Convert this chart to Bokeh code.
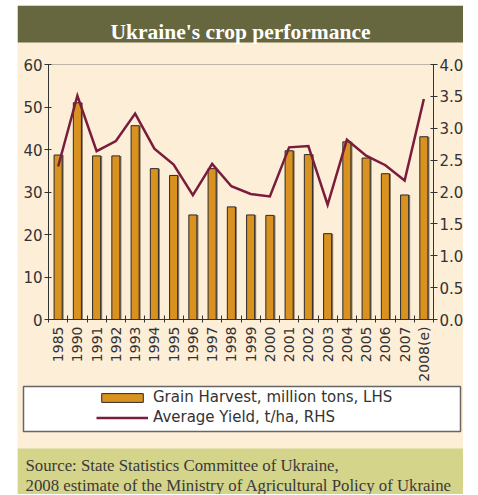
import numpy as np
from bokeh.plotting import figure
from bokeh.models import (ColumnDataSource, Range1d, LinearAxis, FixedTicker,
                          PrintfTickFormatter, Legend, LegendItem, Label,
                          BoxAnnotation)
from bokeh.layouts import column
from bokeh.transform import dodge
from bokeh.embed import file_html
from bokeh.resources import INLINE

# ---------------- data ----------------
years = ["1985", "1990", "1991", "1992", "1993", "1994", "1995", "1996", "1997",
         "1998", "1999", "2000", "2001", "2002", "2003", "2004", "2005", "2006",
         "2007", "2008(e)"]
harvest = [38.7, 51.0, 38.5, 38.5, 45.6, 35.5, 33.9, 24.6, 35.5, 26.5,
           24.6, 24.5, 39.7, 38.8, 20.2, 41.8, 38.0, 34.3, 29.3, 43.0]
yield_tha = [2.40, 3.51, 2.64, 2.80, 3.23, 2.68, 2.43, 1.95, 2.44, 2.09,
             1.97, 1.93, 2.70, 2.72, 1.80, 2.82, 2.57, 2.42, 2.18, 3.46]
left_ticks = [0, 10, 20, 30, 40, 50, 60]
right_ticks = [0.0, 0.5, 1.0, 1.5, 2.0, 2.5, 3.0, 3.5, 4.0]
title_text = "Ukraine's crop performance"
legend_labels = ["Grain Harvest, million tons, LHS", "Average Yield, t/ha, RHS"]
source_lines = ["Source: State Statistics Committee of Ukraine,",
                "2008 estimate of the Ministry of Agricultural Policy of Ukraine"]

# ---------------- styles / layout (pixels) ----------------
CREAM = "#fdeed8"
OLIVE = "#67673f"
SAGE = "#d4d48a"
ORANGE = "#d9911f"
DARK = "#2b2b2b"
SHADOW = "#8a7e6c"
MAROON = "#7a1c3c"
AX = "#333333"
TXT = "#333333"
W, H = 446, 489                 # canvas (page x 17..463, y 5..494)
PL, PR, PT, PB = 31, 416, 59, 314   # chart area inside canvas (px)

n = len(years)
x0, x1 = -0.5, n - 0.5
ppx = (PR - PL) / (x1 - x0)
y0, y1 = left_ticks[0], left_ticks[-1]
ppy = (PB - PT) / (y1 - y0)
xr = Range1d(x0 - PL / ppx, x1 + (W - PR) / ppx)
yr = Range1d(y0 - (H - PB) / ppy, y1 + PT / ppy)
k = (right_ticks[-1] - right_ticks[0]) / (y1 - y0)
yr2 = Range1d(yr.start * k, yr.end * k)

xs = list(range(n))
src = ColumnDataSource(data=dict(x=xs, harvest=harvest, yld=yield_tha))

p = figure(width=W, height=H, x_range=xr, y_range=yr, title=None,
           output_backend="svg", toolbar_location=None, tools="",
           min_border=0, background_fill_color=CREAM,
           border_fill_color=CREAM, outline_line_color=None)
p.extra_y_ranges = {"y2": yr2}
p.xgrid.grid_line_color = None
p.ygrid.grid_line_color = None

# decorative panels (screen units: x from canvas left, y up from canvas bottom)
def panel(left, right, bottom, top, fill, line=None, lw=1):
    b = BoxAnnotation(left=left, right=right, bottom=bottom, top=top,
                      left_units="screen", right_units="screen",
                      bottom_units="screen", top_units="screen",
                      fill_color=fill, fill_alpha=1.0, level="underlay",
                      line_color=line, line_width=lw,
                      line_alpha=1.0 if line else 0)
    p.add_layout(b)

panel(0, W, H - 37, H, OLIVE)                  # title bar (page y 5..42)
panel(6, 443, 63, 108, "white", "#666666", 1.5)  # legend box
panel(0, W, 0, 46, SAGE)                       # source panel (page y 448..)

# chart frame (top border line)
p.add_layout(BoxAnnotation(left=x0, right=x1, bottom=y0, top=y1,
                           fill_alpha=0, line_color=AX, line_width=1,
                           level="underlay"))

p.add_layout(Label(x=223, y=H - 26, x_units="screen", y_units="screen",
                   text=title_text, text_align="center",
                   text_baseline="alphabetic", text_font="Liberation Serif",
                   text_font_style="bold", text_font_size="21.5px",
                   text_color="white"))
for i, line in enumerate(source_lines):
    p.add_layout(Label(x=8, y=29 - 20 * i, x_units="screen", y_units="screen",
                       text=line, text_align="left", text_baseline="alphabetic",
                       text_font="Liberation Serif", text_font_size="16.8px",
                       text_color="#3a3a3a"))

# ---------------- marks ----------------
p.vbar(x=dodge("x", 0.08), top="harvest", width=0.42, source=src,
       fill_color=SHADOW, line_color=None)
rb = p.vbar(x="x", top="harvest", width=0.42, source=src,
            fill_color=ORANGE, line_color=DARK, line_width=1)
rl = p.line(x="x", y="yld", source=src, y_range_name="y2",
            line_color=MAROON, line_width=2.5, line_join="miter")

# ---------------- axes ----------------
xa = p.xaxis[0]
xa.fixed_location = y0
xa.bounds = (x0, x1)
xa.ticker = FixedTicker(ticks=xs, minor_ticks=[i - 0.5 for i in range(n + 1)])
xa.major_label_overrides = {i: y for i, y in enumerate(years)}
xa.major_tick_in = 0
xa.major_tick_out = 0
xa.minor_tick_in = 4
xa.minor_tick_out = 3
xa.minor_tick_line_color = AX
xa.major_label_orientation = np.pi / 2
xa.major_label_standoff = 4
xa.major_label_text_font = "DejaVu Sans"
xa.major_label_text_font_size = "14px"
xa.major_label_text_color = TXT
xa.axis_line_color = AX

ya = p.yaxis[0]
ya.fixed_location = x0
ya.bounds = (y0, y1)
ya.ticker = FixedTicker(ticks=left_ticks)
ya.major_tick_in = 3
ya.major_tick_out = 4
ya.minor_tick_line_color = None
ya.major_label_standoff = 2
ya.major_label_text_font = "DejaVu Sans"
ya.major_label_text_font_size = "15px"
ya.major_label_text_color = TXT
ya.axis_line_color = AX
ya.major_tick_line_color = AX

ra = LinearAxis(y_range_name="y2", ticker=FixedTicker(ticks=right_ticks),
                formatter=PrintfTickFormatter(format="%.1f"),
                fixed_location=x1, bounds=(right_ticks[0], right_ticks[-1]))
ra.major_tick_in = 3
ra.major_tick_out = 4
ra.minor_tick_line_color = None
ra.major_label_standoff = 2
ra.major_label_text_font = "DejaVu Sans"
ra.major_label_text_font_size = "15px"
ra.major_label_text_color = TXT
ra.axis_line_color = AX
ra.major_tick_line_color = AX
p.add_layout(ra, "right")

# ---------------- legend ----------------
leg = Legend(items=[LegendItem(label=legend_labels[0], renderers=[rb]),
                    LegendItem(label=legend_labels[1], renderers=[rl])],
             location=(79, 67), orientation="vertical", padding=0, margin=0,
             spacing=0, border_line_color=None, background_fill_alpha=0,
             glyph_width=52, glyph_height=11, label_height=20,
             label_standoff=5, label_text_font="DejaVu Sans",
             label_text_font_size="15px", label_text_color=TXT)
p.add_layout(leg, "center")

layout = column(p, margin=(5, 0, 0, 17))

with open("out.html", "w") as f:
    f.write(file_html(layout, INLINE))
